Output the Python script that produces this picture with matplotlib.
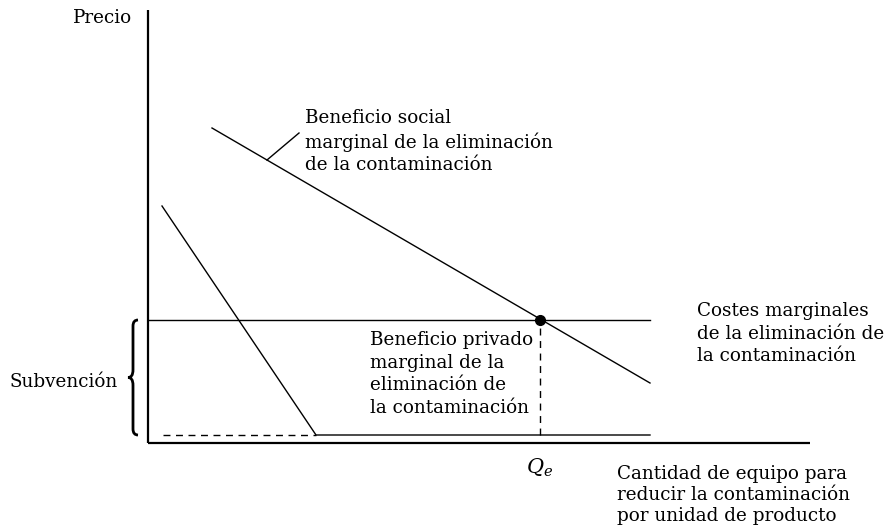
import matplotlib
matplotlib.use("Agg")
import matplotlib.pyplot as plt
from matplotlib.path import Path
from matplotlib.patches import PathPatch

# Data (units relative to origin; y up)
social_x = [64, 502]
social_y = [315, 60]
private_x = [14, 168, 502]
private_y = [237, 8, 8]
cost_x = [0, 502]
cost_y = [123, 123]
qe_x = 392
qe_y = 123
floor_y = 8
dash_floor_x = [15, 168]
axis_x_end = 662
axis_y_end = 433

fig = plt.figure(figsize=(8.88, 5.28), dpi=100)
ax = fig.add_axes([0, 0, 1, 1])
ax.set_xlim(-148, 740)
ax.set_ylim(-85, 443)
ax.axis("off")

font = dict(family="DejaVu Serif", fontsize=13.2, color="black")
ls = 1.33
lw = 1.0

# axes
ax.plot([0, 0], [0, axis_y_end], color="black", lw=1.6, solid_capstyle="butt")
ax.plot([0, axis_x_end], [0, 0], color="black", lw=1.6, solid_capstyle="butt")

# curves
ax.plot(social_x, social_y, color="black", lw=lw)
ax.plot(private_x, private_y, color="black", lw=lw)
ax.plot(cost_x, cost_y, color="black", lw=lw)
ax.plot([qe_x, qe_x], [floor_y, qe_y], color="black", lw=lw, ls=(0, (5, 4)))
ax.plot(dash_floor_x, [floor_y, floor_y], color="black", lw=lw, ls=(0, (5, 4)))
ax.plot([qe_x], [qe_y], "o", color="black", ms=7)

# leader line for social label
ax.plot([119, 151], [283, 310], color="black", lw=lw)

# brace
xt, xe = -20, -10
y0, y1 = floor_y, qe_y
ym = (y0 + y1) / 2
xm = -15
verts = [(xe, y1), (xm, y1), (xm, y1 - 6), (xm, ym + 8),
         (xm, ym + 2), (xm - 2, ym), (xt, ym),
         (xm - 2, ym), (xm, ym - 2), (xm, ym - 8),
         (xm, y0 + 6), (xm, y0), (xe, y0)]
codes = [Path.MOVETO, Path.CURVE3, Path.CURVE3, Path.LINETO,
         Path.CURVE4, Path.CURVE4, Path.CURVE4,
         Path.CURVE4, Path.CURVE4, Path.CURVE4,
         Path.LINETO, Path.CURVE3, Path.CURVE3]
ax.add_patch(PathPatch(Path(verts, codes), fill=False, lw=2.0, color="black"))

# texts
ax.text(-16, 425, "Precio", ha="right", va="center", **font)
ax.text(157, 334, "Beneficio social\nmarginal de la eliminación\nde la contaminación",
        ha="left", va="top", linespacing=ls, **font)
ax.text(549, 141, "Costes marginales\nde la eliminación de\nla contaminación",
        ha="left", va="top", linespacing=ls, **font)
ax.text(222, 112, "Beneficio privado\nmarginal de la\neliminación de\nla contaminación",
        ha="left", va="top", linespacing=ls, **font)
ax.text(-30, 61, "Subvención", ha="right", va="center", **font)
ax.text(qe_x, -25, r"$Q_e$", ha="center", va="center", fontsize=15,
        math_fontfamily="dejavuserif")
ax.text(469, -22, "Cantidad de equipo para\nreducir la contaminación\npor unidad de producto",
        ha="left", va="top", linespacing=1.2, **font)

fig.savefig("out.png", dpi=100)
